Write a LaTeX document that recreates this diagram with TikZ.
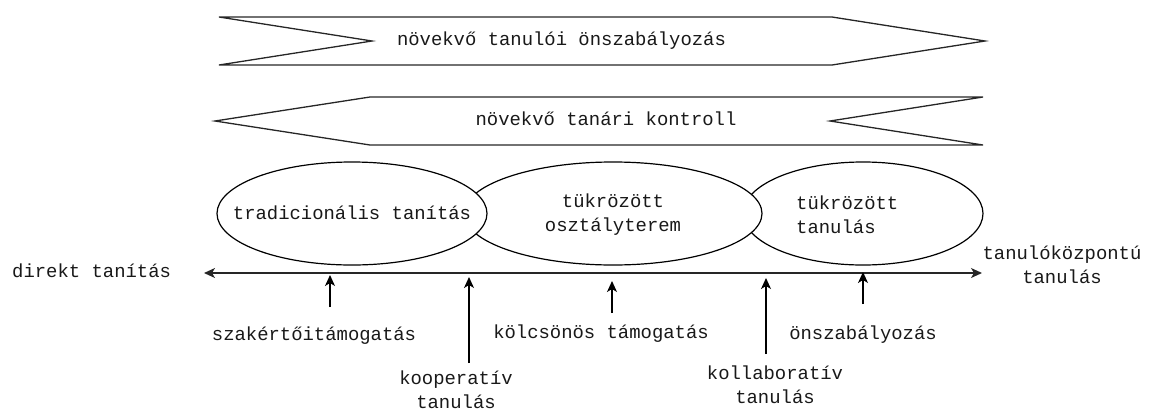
\documentclass[tikz,border=0pt]{standalone}
\usepackage{fontspec}
\setmonofont{Liberation Mono}
\usetikzlibrary{arrows.meta,shapes.geometric}
\begin{document}
\begin{tikzpicture}[x=1pt,y=-1pt,
  txt/.style={font=\ttfamily\fontsize{18.9}{23.5}\selectfont, inner sep=0pt, align=center, text=black!90},
  shp/.style={draw=black!85, line width=1.3pt, line join=miter},
  ell/.style={draw=black, ellipse, line width=1.2pt, fill=white, inner sep=0pt},
  tip/.style={-{Stealth[length=11pt,width=10pt,inset=3pt]}, line width=1.3pt},
  axisline/.style={{Stealth[length=11pt,width=10pt,inset=3pt]}-{Stealth[length=11pt,width=10pt,inset=3pt]}, line width=1.5pt, draw=black!85}]
\useasboundingbox (0,0) rectangle (1151,410);

% banners
\draw[shp] (219,17) -- (832,17) -- (985,41) -- (832,65) -- (219,65) -- (372,41) -- cycle;
\node[txt, anchor=base] (b1) at (561.5,45) {növekvő tanulói önszabályozás};
\draw[shp] (370,97) -- (983,97) -- (830,121) -- (983,145) -- (370,145) -- (215,121) -- cycle;
\node[txt, anchor=base] (b2) at (606,125) {növekvő tanári kontroll};

% ellipses
\node[ell, minimum width=240pt, minimum height=103pt] (e3) at (863,213.5) {};
\node[ell, minimum width=298pt, minimum height=103pt] (e2) at (613,213.5) {};
\node[ell, minimum width=270pt, minimum height=103pt] (e1) at (352,213.5) {};
\node[txt, anchor=base] (t1) at (352,219) {tradicionális tanítás};
\node[txt, anchor=base] (t2) at (613,231) {tükrözött\\osztályterem};
\node[txt, anchor=base west, align=left] (t3) at (796,233) {tükrözött\\tanulás};

% axis
\coordinate (L) at (204,273);
\coordinate (R) at (982,273);
\draw[axisline] (L) -- (R);
\node[txt, anchor=base west] (dt) at (12,277) {direkt tanítás};
\node[txt, anchor=base] (tk) at (1062,283) {tanulóközpontú\\tanulás};

% small arrows
\coordinate (s1) at (330,307); \coordinate (p1) at (330,275);
\coordinate (s2) at (469,363); \coordinate (p2) at (469,277);
\coordinate (s3) at (612,313); \coordinate (p3) at (612,281);
\coordinate (s4) at (766,354); \coordinate (p4) at (766,278);
\coordinate (s5) at (863,304); \coordinate (p5) at (863,272);
\draw[tip] (s1) -- (p1);
\draw[tip] (s2) -- (p2);
\draw[tip] (s3) -- (p3);
\draw[tip] (s4) -- (p4);
\draw[tip] (s5) -- (p5);

\node[txt, anchor=base] (l1) at (314,340) {szakértőitámogatás};
\node[txt, anchor=base] (l2) at (456,408) {kooperatív\\tanulás};
\node[txt, anchor=base] (l3) at (601,338) {kölcsönös támogatás};
\node[txt, anchor=base] (l4) at (775,403) {kollaboratív\\tanulás};
\node[txt, anchor=base] (l5) at (863,339) {önszabályozás};
\end{tikzpicture}
\end{document}
